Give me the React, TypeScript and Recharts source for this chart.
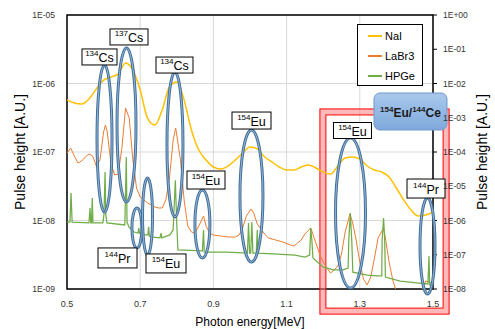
import React from 'react';
import {
  CartesianGrid,
  Legend,
  Line,
  LineChart,
  ReferenceArea,
  ReferenceDot,
  XAxis,
  YAxis,
} from 'recharts';

const FONT = '"Liberation Sans", Arial, sans-serif';

// NaI spectrum (left axis)
const naiEnergy = [
  0.5, 0.52, 0.54, 0.56, 0.58, 0.6, 0.62, 0.64, 0.66, 0.68, 0.7, 0.72, 0.74,
  0.76, 0.78, 0.8, 0.82, 0.84, 0.86, 0.88, 0.9, 0.92, 0.94, 0.96, 0.98, 1.0,
  1.02, 1.04, 1.06, 1.08, 1.1, 1.12, 1.14, 1.16, 1.18, 1.2, 1.22, 1.24, 1.26,
  1.28, 1.3, 1.32, 1.34, 1.36, 1.38, 1.4, 1.42, 1.44, 1.46, 1.48, 1.5,
];
const naiPulse = [
  5.74e-7, 5.19e-7, 5.02e-7, 5.94e-7, 8.31e-7, 1.12e-6, 1.24e-6, 1.38e-6,
  1.99e-6, 1.57e-6, 8.04e-7, 3.13e-7, 2.48e-7, 4.1e-7, 8.89e-7, 1.05e-6,
  5.74e-7, 2.1e-7, 1.07e-7, 7.64e-8, 6.04e-8, 5.65e-8, 6.25e-8, 7.64e-8,
  9.67e-8, 1.18e-7, 1.11e-7, 8.45e-8, 7.15e-8, 6.04e-8, 5.46e-8, 5.46e-8,
  6.04e-8, 6.46e-8, 5.84e-8, 5.11e-8, 4.77e-8, 6.25e-8, 8.17e-8, 8.45e-8,
  7.91e-8, 6.25e-8, 5.46e-8, 5.11e-8, 4.32e-8, 2.98e-8, 1.99e-8, 1.42e-8,
  1.16e-8, 1.2e-8, 1.33e-8,
];

// LaBr3 spectrum (right axis)
const labrEnergy = [
  0.5, 0.51, 0.52, 0.53, 0.54, 0.55, 0.56, 0.57, 0.58, 0.59, 0.6, 0.605, 0.61,
  0.62, 0.63, 0.64, 0.65, 0.66, 0.67, 0.68, 0.69, 0.7, 0.71, 0.72, 0.73, 0.74,
  0.75, 0.76, 0.77, 0.78, 0.79, 0.797, 0.81, 0.82, 0.83, 0.84, 0.85, 0.86,
  0.873, 0.88, 0.89, 0.9, 0.92, 0.94, 0.96, 0.97, 0.98, 0.99, 1.003, 1.01,
  1.02, 1.03, 1.04, 1.05, 1.07, 1.09, 1.11, 1.12, 1.13, 1.14, 1.15, 1.166,
  1.17, 1.18, 1.19, 1.2, 1.21, 1.22, 1.23, 1.24, 1.25, 1.26, 1.273, 1.28,
  1.29, 1.3, 1.31, 1.32, 1.33, 1.34, 1.35, 1.365, 1.37, 1.38, 1.39, 1.4, 1.41,
  1.46, 1.47, 1.48, 1.49, 1.5,
];
const labrPulse = [
  9.35e-5, 1.31e-4, 7.64e-5, 4.77e-5, 5.46e-5, 7.14e-5, 8.74e-5, 7.64e-5,
  3.9e-5, 5.84e-5, 3.84e-4, 6.14e-4, 3.84e-4, 4.77e-5, 2.13e-5, 2.28e-5,
  1.31e-4, 1.93e-3, 9.84e-4, 5.84e-5, 8.89e-6, 4.85e-6, 3.97e-6, 3.24e-6,
  2.84e-6, 2.48e-6, 2.32e-6, 2.32e-6, 3.97e-6, 1.74e-5, 2.24e-4, 5.02e-4,
  5.84e-5, 3.97e-6, 6.9e-7, 4.61e-7, 4.31e-7, 6.9e-7, 1.35e-6, 6.9e-7,
  4.31e-7, 3.77e-7, 3.52e-7, 3.3e-7, 3.3e-7, 3.77e-7, 6.04e-7, 1.35e-6,
  2.17e-6, 1.66e-6, 7.9e-7, 5.65e-7, 4.04e-7, 3.08e-7, 2.7e-7, 2.36e-7,
  1.93e-7, 1.8e-7, 2.2e-7, 2.7e-7, 4.04e-7, 6.04e-7, 4.61e-7, 2.2e-7,
  1.05e-7, 6.14e-8, 4.1e-8, 2.93e-8, 3.59e-8, 4.7e-8, 1.05e-7, 4.61e-7,
  1.55e-6, 9.04e-7, 2.7e-7, 6.14e-8, 1.96e-8, 1.31e-8, 2.24e-8, 8.04e-8,
  3.08e-7, 6.04e-7, 3.08e-7, 6.14e-8, 1.83e-8, 8.17e-9, 4.77e-9, 4.77e-9,
  1.0e-8, 1.71e-8, 1.6e-8, 1.31e-8,
];

// HPGe spectrum (right axis)
const hpgeEnergy = [
  0.5, 0.508, 0.511, 0.514, 0.56, 0.563, 0.565, 0.567, 0.569, 0.571, 0.598,
  0.601, 0.604, 0.606, 0.609, 0.658, 0.662, 0.664, 0.669, 0.683, 0.694, 0.696,
  0.698, 0.71, 0.721, 0.723, 0.725, 0.73, 0.754, 0.757, 0.759, 0.781, 0.79,
  0.796, 0.8, 0.803, 0.87, 0.873, 0.875, 0.937, 0.993, 0.996, 0.999, 1.002,
  1.005, 1.008, 1.017, 1.02, 1.022, 1.076, 1.123, 1.15, 1.163, 1.166, 1.169,
  1.172, 1.199, 1.227, 1.254, 1.268, 1.27, 1.274, 1.278, 1.281, 1.32, 1.347,
  1.36, 1.361, 1.365, 1.368, 1.37, 1.41, 1.456, 1.486, 1.489, 1.491, 1.5,
];
const hpgePulse = [
  9.0e-7, 9.0e-7, 6.3e-6, 9.0e-7, 8.5e-7, 2.3e-6, 8.5e-7, 8.5e-7, 4.5e-6,
  8.5e-7, 8.5e-7, 1.45e-6, 2.6e-5, 1.55e-6, 8.5e-7, 7.4e-7, 7.1e-5, 9.0e-7,
  6.5e-7, 4.6e-7, 4.3e-7, 6.0e-7, 4.3e-7, 3.8e-7, 3.8e-7, 6.5e-7, 3.5e-7,
  3.3e-7, 3.1e-7, 4.3e-7, 3.1e-7, 3.8e-7, 5.3e-7, 1.5e-5, 7.4e-7, 1.38e-7,
  1.29e-7, 5.3e-7, 1.2e-7, 1.2e-7, 1.12e-7, 8.5e-7, 1.12e-7, 1.12e-7, 9.0e-7,
  1.12e-7, 1.12e-7, 5.3e-7, 1.12e-7, 1.05e-7, 9.8e-8, 8.6e-8, 9.8e-8, 6.0e-7,
  2.7e-7, 8.0e-8, 4.4e-8, 3.6e-8, 3.6e-8, 4.1e-8, 2.7e-7, 1.66e-6, 2.7e-7,
  3.1e-8, 2.56e-8, 2.4e-8, 2.4e-8, 2.7e-7, 1.18e-6, 2.7e-7, 2.24e-8, 1.71e-8,
  1.5e-8, 1.4e-8, 9.2e-8, 1.31e-8, 1.22e-8,
];

const seriesNames = ['NaI', 'LaBr3', 'HPGe'];
const energyTicks = [0.5, 0.7, 0.9, 1.1, 1.3, 1.5];
const leftTicks = [1e-9, 1e-8, 1e-7, 1e-6, 1e-5];
const rightTicks = [1e-8, 1e-7, 1e-6, 1e-5, 1e-4, 1e-3, 1e-2, 1e-1, 1];

// peak annotations, in energy / left-axis units
const ellipses = [
  { e: 0.6025, y: 1.57e-7, rx: 7.5, ry: 73.5 },
  { e: 0.6626, y: 2.48e-7, rx: 9.5, ry: 77 },
  { e: 0.795, y: 1.29e-7, rx: 8, ry: 72.5 },
  { e: 0.691, y: 7.78e-9, rx: 5, ry: 20 },
  { e: 0.72, y: 1.14e-8, rx: 5, ry: 38.5 },
  { e: 0.87, y: 8.89e-9, rx: 7.5, ry: 34 },
  { e: 1.004, y: 2.28e-8, rx: 11.5, ry: 66 },
  { e: 1.2746, y: 1.29e-8, rx: 15, ry: 75 },
  { e: 1.485, y: 4.25e-9, rx: 7.5, ry: 48 },
];

const isoLabels = [
  { e: 0.5888, y: 2.44e-6, mass: '134', el: 'Cs', w: 35, h: 16 },
  { e: 0.6694, y: 4.78e-6, mass: '137', el: 'Cs', w: 38, h: 16 },
  { e: 0.7937, y: 1.86e-6, mass: '134', el: 'Cs', w: 37, h: 16 },
  { e: 1.0041, y: 2.88e-7, mass: '154', el: 'Eu', w: 39, h: 17 },
  { e: 0.8798, y: 3.9e-8, mass: '154', el: 'Eu', w: 38, h: 18 },
  { e: 0.638, y: 2.84e-9, mass: '144', el: 'Pr', w: 39, h: 20 },
  { e: 0.7705, y: 2.36e-9, mass: '154', el: 'Eu', w: 40, h: 19 },
  { e: 1.28, y: 2.06e-7, mass: '154', el: 'Eu', w: 38, h: 16 },
  { e: 1.4809, y: 2.93e-8, mass: '144', el: 'Pr', w: 38, h: 19 },
];

const toRows = (energy: number[], pulse: number[]) =>
  energy.map((e, i) => ({ e, v: pulse[i] }));

const naiRows = toRows(naiEnergy, naiPulse);
const labrRows = toRows(labrEnergy, labrPulse);
const hpgeRows = toRows(hpgeEnergy, hpgePulse);

const fmtExp = (v: number) => {
  const p = Math.round(Math.log10(v));
  return `1E${p < 0 ? '-' : '+'}${String(Math.abs(p)).padStart(2, '0')}`;
};

const axisTitle = (dx: number) => (props: any) => {
  const vb = props.viewBox;
  const x = vb.x + dx;
  const y = vb.y + vb.height / 2;
  return (
    <text
      x={x}
      y={y}
      transform={`rotate(-90 ${x} ${y})`}
      textAnchor="middle"
      fontSize={14}
      fontFamily={FONT}
      fill="#000"
    >
      Pulse height [A.U.]
    </text>
  );
};

const ellipseShape = (rx: number, ry: number) => (props: any) => (
  <g>
    <ellipse cx={props.cx} cy={props.cy} rx={rx} ry={ry} fill="none" stroke="#41709c" strokeWidth={3} />
    <ellipse cx={props.cx} cy={props.cy} rx={rx} ry={ry} fill="none" stroke="#a9c4e0" strokeWidth={0.8} />
  </g>
);

const labelShape = (mass: string, el: string, w: number, h: number) => (props: any) => (
  <g>
    <rect x={props.cx - w / 2} y={props.cy - h / 2} width={w} height={h} fill="#fff" stroke="#000" strokeWidth={1} />
    <text x={props.cx} y={props.cy + 5} textAnchor="middle" fontFamily={FONT} fill="#000">
      <tspan fontSize={8} dy={-6}>{mass}</tspan>
      <tspan fontSize={12.5} dy={6}>{el}</tspan>
    </text>
  </g>
);

const redBox = (props: any) => {
  const { x, y, width, height } = props;
  return (
    <g>
      <rect x={x + 3} y={y + 3} width={width - 6} height={height - 6} fill="none" stroke="#ff7f7f" strokeOpacity={0.55} strokeWidth={6} />
      <rect x={x} y={y} width={width} height={height} fill="none" stroke="#ff0000" strokeWidth={1} />
      <rect x={x + 6} y={y + 6} width={width - 12} height={height - 12} fill="none" stroke="#ff0000" strokeWidth={1} />
    </g>
  );
};

const sourceBox = (props: any) => {
  const w = 73;
  const h = 37;
  return (
    <g>
      <defs>
        <linearGradient id="srcFill" x1="0" y1="0" x2="0" y2="1">
          <stop offset="0%" stopColor="#a9c8eb" />
          <stop offset="100%" stopColor="#7fa9dc" />
        </linearGradient>
      </defs>
      <rect x={props.cx - w / 2} y={props.cy - h / 2} width={w} height={h} rx={6} fill="url(#srcFill)" stroke="#6f98cc" strokeWidth={1} />
      <text x={props.cx} y={props.cy + 5} textAnchor="middle" fontFamily={FONT} fontWeight="bold" fill="#1a1a1a">
        <tspan fontSize={8} dy={-5}>154</tspan>
        <tspan fontSize={12} dy={5}>Eu/</tspan>
        <tspan fontSize={8} dy={-5}>144</tspan>
        <tspan fontSize={12} dy={5}>Ce</tspan>
      </text>
    </g>
  );
};

const LegendBox = ({ payload }: any) => {
  const items = [...(payload || [])].sort(
    (a: any, b: any) => seriesNames.indexOf(a.value) - seriesNames.indexOf(b.value),
  );
  return (
    <div
      style={{
        width: 66,
        height: 62,
        boxSizing: 'border-box',
        border: '1px solid #000',
        background: '#fff',
        padding: '1px 0 0 10px',
      }}
    >
      {items.map((p: any) => (
        <div
          key={p.value}
          style={{ display: 'flex', alignItems: 'center', height: 20, fontSize: 11, fontFamily: FONT, color: '#000' }}
        >
          <span style={{ display: 'inline-block', width: 14, borderTop: `2px solid ${p.color}`, marginRight: 3 }} />
          {p.value}
        </div>
      ))}
    </div>
  );
};

export default function App() {
  return (
    <div style={{ position: 'absolute', left: 0, top: 0, width: 495, height: 329, background: '#fff' }}>
      <LineChart width={495} height={329} margin={{ top: 15, right: 0, bottom: 0, left: 0 }}>
        <CartesianGrid yAxisId="left" stroke="#d9d9d9" strokeWidth={1} />
        <XAxis
          dataKey="e"
          type="number"
          domain={[0.5, 1.5]}
          ticks={energyTicks}
          allowDataOverflow
          height={40}
          axisLine={false}
          tickLine={false}
          tickSize={6}
          tickMargin={6}
          tick={{ fontSize: 9, fill: '#333', fontFamily: FONT }}
          label={{ value: 'Photon energy[MeV]', position: 'insideBottom', offset: 3, fontSize: 12, fontFamily: FONT, fill: '#000' }}
        />
        <YAxis
          yAxisId="left"
          scale="log"
          type="number"
          domain={[1e-9, 1e-5]}
          ticks={leftTicks}
          allowDataOverflow
          width={67}
          axisLine={false}
          tickLine={false}
          tickSize={6}
          tickMargin={6}
          tickFormatter={fmtExp}
          tick={{ fontSize: 8.5, fill: '#333', fontFamily: FONT }}
          label={axisTitle(25)}
        />
        <YAxis
          yAxisId="right"
          orientation="right"
          scale="log"
          type="number"
          domain={[1e-8, 1]}
          ticks={rightTicks}
          allowDataOverflow
          width={62}
          axisLine={false}
          tickLine={{ stroke: '#000' }}
          tickSize={4}
          tickMargin={6}
          tickFormatter={fmtExp}
          tick={{ fontSize: 8.5, fill: '#333', fontFamily: FONT }}
          label={axisTitle(54)}
        />
        <Legend
          layout="vertical"
          align="center"
          verticalAlign="middle"
          content={<LegendBox />}
          wrapperStyle={{ left: 357, top: 24, width: 66, height: 62 }}
        />
        <Line
          yAxisId="left"
          data={naiRows}
          dataKey="v"
          name="NaI"
          type="monotone"
          stroke="#ffc000"
          strokeWidth={1.5}
          dot={false}
          isAnimationActive={false}
        />
        <Line
          yAxisId="right"
          data={labrRows}
          dataKey="v"
          name="LaBr3"
          type="linear"
          stroke="#ed7d31"
          strokeWidth={1}
          dot={false}
          isAnimationActive={false}
        />
        <Line
          yAxisId="right"
          data={hpgeRows}
          dataKey="v"
          name="HPGe"
          type="linear"
          stroke="#70ad47"
          strokeWidth={1.25}
          dot={false}
          isAnimationActive={false}
        />
        <ReferenceArea
          yAxisId="left"
          x1={0.5}
          x2={1.5}
          y1={1e-9}
          y2={1e-5}
          fill="none"
          stroke="#000"
          strokeWidth={1.5}
          ifOverflow="visible"
        />
        {ellipses.map((d, i) => (
          <ReferenceDot
            key={`el${i}`}
            yAxisId="left"
            x={d.e}
            y={d.y}
            r={1}
            ifOverflow="visible"
            shape={ellipseShape(d.rx, d.ry)}
          />
        ))}
        {isoLabels.map((d, i) => (
          <ReferenceDot
            key={`lb${i}`}
            yAxisId="left"
            x={d.e}
            y={d.y}
            r={1}
            ifOverflow="visible"
            shape={labelShape(d.mass, d.el, d.w, d.h)}
          />
        ))}
        <ReferenceArea
          yAxisId="left"
          x1={1.191}
          x2={1.544}
          y1={4.3e-10}
          y2={4.25e-7}
          ifOverflow="visible"
          shape={redBox}
        />
        <ReferenceDot yAxisId="left" x={1.4385} y={3.9e-7} r={1} ifOverflow="visible" shape={sourceBox} />
      </LineChart>
    </div>
  );
}
